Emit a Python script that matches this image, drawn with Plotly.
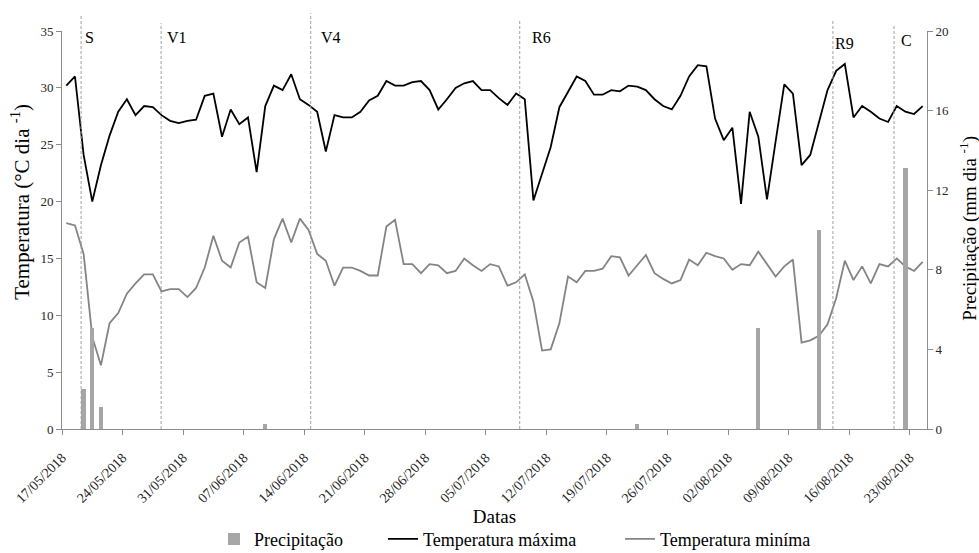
import pandas as pd
import plotly.graph_objects as go

# Daily weather record, 17/05/2018 - 24/08/2018
start_date = "2018-05-17"

temp_max = [
    30.2, 31.0, 24.1, 20.0, 23.2, 25.8, 27.9, 29.0, 27.6, 28.4,
    28.3, 27.6, 27.1, 26.9, 27.1, 27.2, 29.3, 29.5, 25.7, 28.1,
    26.8, 27.4, 22.6, 28.4, 30.2, 29.8, 31.2, 29.0, 28.5, 27.9,
    24.4, 27.6, 27.4, 27.4, 27.9, 28.9, 29.3, 30.6, 30.2, 30.2,
    30.5, 30.6, 29.8, 28.1, 29.0, 30.0, 30.4, 30.6, 29.8, 29.8,
    29.1, 28.5, 29.5, 29.0, 20.1, 22.5, 24.8, 28.3, 29.7, 31.0,
    30.6, 29.4, 29.4, 29.8, 29.7, 30.2, 30.1, 29.8, 29.0, 28.4,
    28.1, 29.3, 31.0, 32.0, 31.9, 27.3, 25.4, 26.5, 19.8, 27.9,
    25.7, 20.2, 25.3, 30.3, 29.5, 23.2, 24.1, 26.9, 29.8, 31.5,
    32.1, 27.4, 28.4, 27.9, 27.3, 27.0, 28.4, 27.9, 27.7, 28.4,
]

temp_min = [
    18.1, 17.9, 15.4, 8.1, 5.6, 9.3, 10.2, 11.9, 12.8, 13.6,
    13.6, 12.1, 12.3, 12.3, 11.6, 12.4, 14.2, 17.0, 14.8, 14.2,
    16.4, 16.9, 12.9, 12.4, 16.7, 18.5, 16.4, 18.5, 17.5, 15.4,
    14.8, 12.6, 14.2, 14.2, 13.9, 13.5, 13.5, 17.8, 18.4, 14.5,
    14.5, 13.7, 14.5, 14.4, 13.7, 13.9, 15.0, 14.4, 13.9, 14.5,
    14.3, 12.6, 12.9, 13.6, 11.2, 6.9, 7.0, 9.3, 13.4, 12.9,
    13.9, 13.9, 14.1, 15.2, 15.1, 13.5, 14.4, 15.3, 13.7, 13.2,
    12.8, 13.1, 14.9, 14.4, 15.5, 15.2, 15.0, 14.0, 14.5, 14.4,
    15.6, 14.5, 13.4, 14.3, 14.9, 7.6, 7.8, 8.2, 9.2, 11.5,
    14.8, 13.1, 14.3, 12.8, 14.5, 14.3, 15.0, 14.3, 13.9, 14.7,
]

precip = [
    0, 0, 2.0, 5.1, 1.1, 0, 0, 0, 0, 0,
    0, 0, 0, 0, 0, 0, 0, 0, 0, 0,
    0, 0, 0, 0.25, 0, 0, 0, 0, 0, 0,
    0, 0, 0, 0, 0, 0, 0, 0, 0, 0,
    0, 0, 0, 0, 0, 0, 0, 0, 0, 0,
    0, 0, 0, 0, 0, 0, 0, 0, 0, 0,
    0, 0, 0, 0, 0, 0, 0.25, 0, 0, 0,
    0, 0, 0, 0, 0, 0, 0, 0, 0, 0,
    5.1, 0, 0, 0, 0, 0, 0, 10.0, 0, 0,
    0, 0, 0, 0, 0, 0, 0, 13.1, 0, 0,
]

# Phenological stages
stage_names = ["S", "V1", "V4", "R6", "R9", "C"]
stage_dates = ["2018-05-19 05:00", "2018-05-28 11:00", "2018-06-14 18:00",
               "2018-07-08 22:00", "2018-08-14 03:00", "2018-08-21 04:30"]

# --- styling -------------------------------------------------------------
FONT = "Liberation Serif"
AXIS_GREY = "#8c8c8c"
TEXT = "#262626"
stage_line_top = [1.043, 1.020, 1.045, 1.025, 1.026, 1.016]
stage_label_shift = [2, 4, 8, 10, 0, 5]
stage_label_y = [0.984, 0.984, 0.984, 0.984, 0.968, 0.976]

day = pd.Timedelta(days=1)
days = pd.date_range(pd.Timestamp(start_date) + day / 2, periods=len(temp_max), freq="D")
x_start = pd.Timestamp(start_date)
x_end = x_start + len(temp_max) * day

fig = go.Figure()

fig.add_trace(go.Bar(
    x=days, y=precip, name="Precipitação", yaxis="y2",
    width=(day / 2).total_seconds() * 1000,
    marker=dict(color="#a6a6a6", line=dict(width=0)),
    legend="legend",
))
fig.add_trace(go.Scatter(
    x=days, y=temp_max, name="Temperatura máxima", mode="lines",
    line=dict(color="#000000", width=1.8),
    legend="legend2",
))
fig.add_trace(go.Scatter(
    x=days, y=temp_min, name="Temperatura miníma", mode="lines",
    line=dict(color="#848484", width=1.8),
    legend="legend3",
))

shapes = []
annotations = []
for name, d, top, shift, ly in zip(stage_names, stage_dates, stage_line_top,
                                   stage_label_shift, stage_label_y):
    shapes.append(dict(type="line", xref="x", yref="paper", x0=d, x1=d, y0=0, y1=top,
                       line=dict(color="#a0a0a0", width=1, dash="3px,2px")))
    annotations.append(dict(xref="x", yref="paper", x=d, y=ly, text=name,
                            showarrow=False, xanchor="left", yanchor="middle",
                            xshift=shift, font=dict(family=FONT, size=16, color="#000")))

annotations.append(dict(xref="paper", yref="paper", x=-0.048, y=0.572,
                        text="Temperatura (°C dia <sup>-1</sup>)", textangle=-90,
                        showarrow=False, xanchor="center", yanchor="middle",
                        font=dict(family=FONT, size=21, color="#000")))
annotations.append(dict(xref="paper", yref="paper", x=1.047, y=0.505,
                        text="Precipitação (mm dia <sup>-1</sup>)", textangle=-90,
                        showarrow=False, xanchor="center", yanchor="middle",
                        font=dict(family=FONT, size=19, color="#000")))

legend_common = dict(orientation="h", yanchor="middle", y=-0.277, xanchor="left",
                     bgcolor="rgba(0,0,0,0)", font=dict(family=FONT, size=18, color="#000"))

fig.update_layout(
    width=979, height=553,
    margin=dict(l=62, r=52, t=31, b=124, autoexpand=False),
    paper_bgcolor="white", plot_bgcolor="white",
    font=dict(family=FONT, color=TEXT),
    bargap=0,
    showlegend=True,
    legend=dict(x=0.1757, **legend_common),
    legend2=dict(x=0.3711, **legend_common),
    legend3=dict(x=0.6451, **legend_common),
    xaxis=dict(
        type="date", range=[x_start, x_end], automargin=False,
        tick0=x_start, dtick=7 * 86400000, tickformat="%d/%m/%Y", tickangle=-45,
        ticks="outside", ticklen=5, tickcolor=AXIS_GREY, ticklabelstandoff=9,
        showline=True, linecolor=AXIS_GREY, linewidth=1, showgrid=False, zeroline=False,
        tickfont=dict(family=FONT, size=14, color=TEXT),
        title=dict(text="Datas", font=dict(family=FONT, size=19, color="#000"), standoff=1),
    ),
    yaxis=dict(
        range=[0, 35], dtick=5, ticks="outside", ticklen=5, tickcolor=AXIS_GREY,
        showline=True, linecolor=AXIS_GREY, linewidth=1, showgrid=False, zeroline=False,
        tickfont=dict(family=FONT, size=13, color=TEXT), automargin=False,
    ),
    yaxis2=dict(
        range=[0, 20], dtick=4, overlaying="y", side="right",
        ticks="outside", ticklen=5, tickcolor=AXIS_GREY,
        showline=True, linecolor=AXIS_GREY, linewidth=1, showgrid=False, zeroline=False,
        tickfont=dict(family=FONT, size=13, color=TEXT), automargin=False,
    ),
    shapes=shapes,
    annotations=annotations,
)

fig.write_html("out.html")
